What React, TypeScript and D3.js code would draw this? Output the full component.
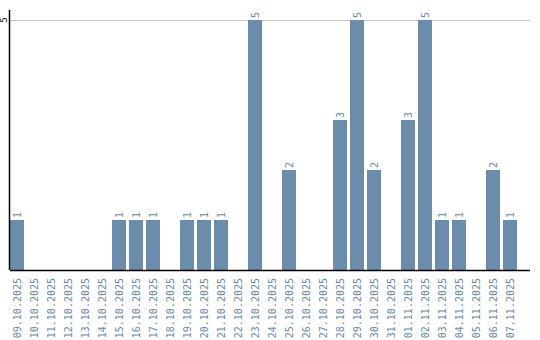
import React from "react";
import * as d3 from "d3";

const dates = [
  "09.10.2025", "10.10.2025", "11.10.2025", "12.10.2025", "13.10.2025",
  "14.10.2025", "15.10.2025", "16.10.2025", "17.10.2025", "18.10.2025",
  "19.10.2025", "20.10.2025", "21.10.2025", "22.10.2025", "23.10.2025",
  "24.10.2025", "25.10.2025", "26.10.2025", "27.10.2025", "28.10.2025",
  "29.10.2025", "30.10.2025", "31.10.2025", "01.11.2025", "02.11.2025",
  "03.11.2025", "04.11.2025", "05.11.2025", "06.11.2025", "07.11.2025",
];
const counts = [
  1, 0, 0, 0, 0,
  0, 1, 1, 1, 0,
  1, 1, 1, 0, 5,
  0, 2, 0, 0, 3,
  5, 2, 0, 3, 5,
  1, 1, 0, 2, 1,
];
const yTicks = [5];

const W = 540;
const H = 340;
const left = 10;
const right = 530;
const top = 10;
const bottom = 270;
const barColor = "#6b8cab";
const labelColor = "#6a8aa8";
const font = "'DejaVu Sans Mono', monospace";

export default function App() {
  const x = d3
    .scaleBand<string>()
    .domain(dates)
    .range([left, 517])
    .paddingInner(3 / 17)
    .paddingOuter(0);
  const y = d3.scaleLinear().domain([0, 5.2]).range([bottom, top]);

  return (
    <svg
      width={W}
      height={H}
      style={{ position: "absolute", left: 0, top: 0, background: "#fff" }}
    >
      {yTicks.map((t) => (
        <g key={t}>
          <line x1={left} x2={right} y1={y(t) + 0.5} y2={y(t) + 0.5} stroke="#c8c8c8" strokeWidth={1} />
          <text
            transform={`translate(6.5,${y(t)}) rotate(-90)`}
            textAnchor="middle"
            fontFamily={font}
            fontSize={9}
            fill="#000"
          >
            {t}
          </text>
        </g>
      ))}
      {dates.map((d, i) =>
        counts[i] > 0 ? (
          <g key={d}>
            <rect
              x={x(d)}
              y={y(counts[i])}
              width={x.bandwidth()}
              height={bottom - y(counts[i])}
              fill={barColor}
            />
            <text
              transform={`translate(${(x(d) as number) + x.bandwidth() / 2 + 3.5},${y(counts[i]) - 2}) rotate(-90)`}
              textAnchor="start"
              fontFamily={font}
              fontSize={10}
              fill={labelColor}
            >
              {counts[i]}
            </text>
          </g>
        ) : null
      )}
      <line x1={left - 0.5} x2={left - 0.5} y1={top} y2={bottom} stroke="#000" strokeWidth={1.5} />
      <line x1={left} x2={right} y1={bottom + 0.5} y2={bottom + 0.5} stroke="#000" strokeWidth={1.5} />
      {dates.map((d) => (
        <text
          key={"l" + d}
          transform={`translate(${(x(d) as number) + x.bandwidth() / 2 + 3.5},${bottom + 8}) rotate(-90)`}
          textAnchor="end"
          fontFamily={font}
          fontSize={10}
          fill={labelColor}
        >
          {d}
        </text>
      ))}
    </svg>
  );
}
